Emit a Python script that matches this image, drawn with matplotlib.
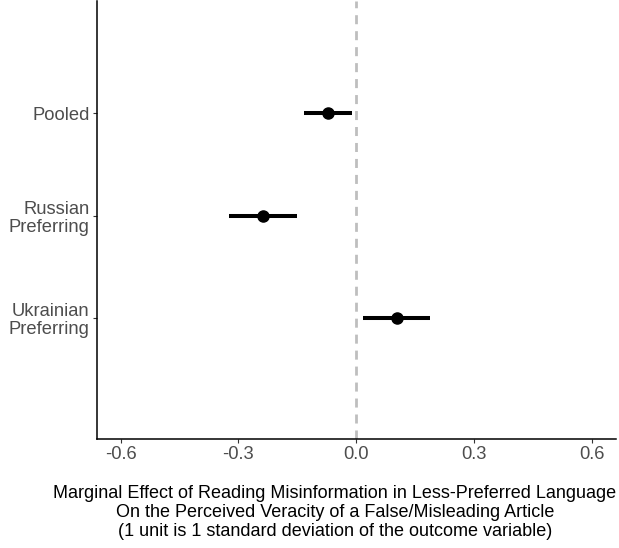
import matplotlib
matplotlib.use("Agg")
import matplotlib.pyplot as plt

groups = ["Pooled", "Russian\nPreferring", "Ukrainian\nPreferring"]
estimates = [-0.073, -0.237, 0.105]
ci_low = [-0.134, -0.323, 0.017]
ci_high = [-0.011, -0.150, 0.187]
xticks = [-0.6, -0.3, 0.0, 0.3, 0.6]
xtick_labels = ["-0.6", "-0.3", "0.0", "0.3", "0.6"]
xlabel = ("Marginal Effect of Reading Misinformation in Less-Preferred Language\n"
          "On the Perceived Veracity of a False/Misleading Article\n"
          "(1 unit is 1 standard deviation of the outcome variable)")

plt.rcParams['font.family'] = ['Liberation Sans', 'DejaVu Sans']
plt.rcParams['lines.scale_dashes'] = False

fig = plt.figure(figsize=(6.19, 5.48), dpi=100)
ax = fig.add_axes([96.7/619, 1 - 439/548, (616 - 96.7)/619, 438/548])

ypos = list(range(1, len(groups) + 1))

ax.axvline(0, color="#BEBEBE", lw=2.0, dashes=(6.5, 5.0), zorder=1)
ax.hlines(ypos, ci_low, ci_high, color="black", lw=2.9, zorder=2)
ax.plot(estimates, ypos, "o", color="black", ms=8, zorder=3)

ax.set_xlim(-0.661, 0.662)
ax.set_ylim(1 + 326/102.5, 1 - 112/102.5)

ax.set_xticks(xticks)
ax.set_xticklabels(xtick_labels)
ax.set_yticks(ypos)
ax.set_yticklabels(groups, linespacing=1.1)

ax.tick_params(axis="both", labelsize=13.2, labelcolor="#4D4D4D", color="#333333",
               length=2.7, width=0.8, pad=2.5)

for s in ["top", "right"]:
    ax.spines[s].set_visible(False)
for s in ["left", "bottom"]:
    ax.spines[s].set_color("black")
    ax.spines[s].set_linewidth(1.1)

fig.text(335/619, 1 - 485/548, xlabel, ha="center", va="top", fontsize=13.0,
         linespacing=1.14, color="black")

fig.savefig("out.png", dpi=100)
